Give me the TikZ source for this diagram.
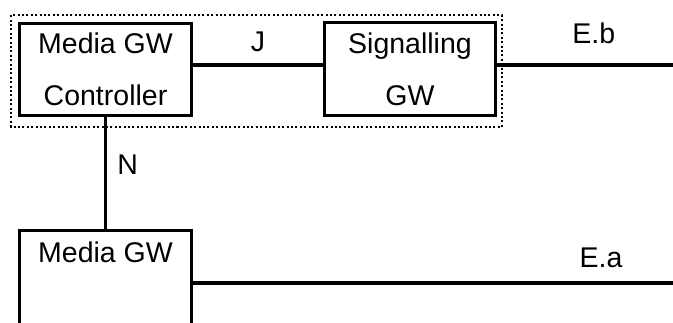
\documentclass[tikz,border=0pt]{standalone}
\usepackage{fontspec}
\setmainfont{Liberation Sans}
\begin{document}
\begin{tikzpicture}[x=1pt,y=-1pt,
  box/.style={draw,line width=2.8pt,minimum width=172pt,minimum height=92pt,inner sep=0pt,align=center,font=\fontsize{28.5}{52}\selectfont},
  link/.style={line width=3.5pt},
  lbl/.style={font=\fontsize{28.5}{34}\selectfont,inner sep=0pt},
  grp/.style={line width=2pt,dash pattern=on 2pt off 2.4pt}]
\clip (0,0) rectangle (673,322);
\node[box] (mgc) at (105.5,69.5) {Media GW\\Controller};
\node[box,minimum width=171pt,minimum height=93pt] (sg) at (410,69) {Signalling\\GW};
\node[box,minimum height=105pt,label={[lbl,anchor=north,yshift=-13pt]north:Media GW}] (mg) at (105.5,283) {};
\coordinate (jy) at (0,65);
\coordinate (ebend) at (673,65);
\coordinate (eaend) at (673,283);
\draw[grp] ([xshift=-7pt,yshift=7pt]mgc.north west) rectangle ([xshift=5pt,yshift=-10pt]sg.south east);
\draw[link] (mgc.east |- jy) -- node[lbl,above=11pt,midway]{J} (sg.west |- jy);
\draw[link] (sg.east |- ebend) -- node[lbl,above=19pt,pos=0.55]{E.b} (ebend);
\draw[link] (mgc.south) -- node[lbl,right=10pt,pos=0.43]{N} (mg.north);
\draw[link] (mg.east) -- node[lbl,above=13pt,pos=0.85]{E.a} (eaend);
\end{tikzpicture}
\end{document}
